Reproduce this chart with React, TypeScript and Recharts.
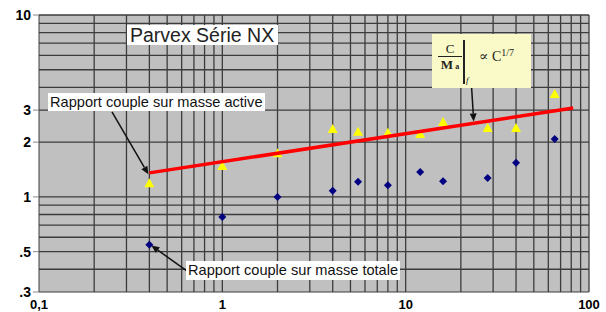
import { ScatterChart, Scatter, XAxis, YAxis, ReferenceLine, ReferenceArea } from 'recharts';

// rating (x) shared by both series
const ratings = [0.4, 1, 2, 4, 5.5, 8, 12, 16, 28, 40, 65];
const activeRatio = [1.19, 1.48, 1.74, 2.36, 2.28, 2.25, 2.22, 2.58, 2.39, 2.39, 3.68];
const totalRatio = [0.545, 0.776, 1.0, 1.08, 1.21, 1.16, 1.37, 1.22, 1.27, 1.54, 2.08];

// C^(1/7) trend line ends
const trendX = [0.4, 82];
const trendY = [1.355, 3.08];

const xTicks = [0.1, 1, 10, 100];
const xTickLabels = ['0,1', '1', '10', '100'];
const yTicks = [0.3, 0.5, 1, 2, 3, 10];
const yTickLabels = ['.3', '.5', '1', '2', '3', '10'];

const xGrid = [0.2, 0.3, 0.4, 0.5, 0.6, 0.7, 0.8, 0.9, 1, 2, 3, 4, 5, 6, 7, 8, 9, 10, 20, 30, 40, 50, 60, 70, 80, 90, 100];
const yGrid = [0.4, 0.5, 0.6, 0.7, 0.8, 0.9, 1, 2, 3, 4, 5, 6, 7, 8, 9, 10];

// annotation arrows [from, to] in data units
const arrows = [
  [{ x: 0.25, y: 2.93 }, { x: 0.395, y: 1.33 }],
  [{ x: 0.64, y: 0.392 }, { x: 0.41, y: 0.54 }],
  [{ x: 22.9, y: 3.97 }, { x: 23.5, y: 2.6 }],
];

const activeData = ratings.map((x, i) => ({ x, y: activeRatio[i] }));
const totalData = ratings.map((x, i) => ({ x, y: totalRatio[i] }));
const trendData = trendX.map((x, i) => ({ x, y: trendY[i] }));

const GRID = '#3c3c3c';
const FONT = 'Arial, "Liberation Sans", sans-serif';

const Triangle = (p: any) => (
  <polygon points={`${p.cx},${p.cy - 5} ${p.cx - 5},${p.cy + 4} ${p.cx + 5},${p.cy + 4}`} fill="#ffff00" />
);
const Diamond = (p: any) => (
  <polygon points={`${p.cx},${p.cy - 4} ${p.cx + 4},${p.cy} ${p.cx},${p.cy + 4} ${p.cx - 4},${p.cy}`} fill="#000080" />
);

const Arrow = (p: any) => {
  const { x1, y1, x2, y2 } = p;
  const a = Math.atan2(y2 - y1, x2 - x1);
  const L = 8, W = 3.5;
  const bx = x2 - L * Math.cos(a), by = y2 - L * Math.sin(a);
  const px = -Math.sin(a) * W, py = Math.cos(a) * W;
  return (
    <g>
      <line x1={x1} y1={y1} x2={bx} y2={by} stroke="#111" strokeWidth={1.5} />
      <polygon points={`${x2},${y2} ${bx + px},${by + py} ${bx - px},${by - py}`} fill="#111" />
    </g>
  );
};

const labelBox = {
  position: 'absolute' as const,
  background: '#fff',
  fontFamily: FONT,
  color: '#111',
  whiteSpace: 'nowrap' as const,
  lineHeight: 1,
  boxSizing: 'border-box' as const,
};

export default function App() {
  return (
    <div style={{ position: 'absolute', left: 0, top: 0, width: 606, height: 312, background: '#fff' }}>
      <ScatterChart width={606} height={312} margin={{ top: 15, right: 17, bottom: 0, left: 0 }}>
        <XAxis
          type="number"
          dataKey="x"
          scale="log"
          domain={[0.1, 100]}
          allowDataOverflow
          ticks={xTicks}
          tickFormatter={(v: number) => xTickLabels[xTicks.indexOf(v)] ?? ''}
          tickLine={false}
          axisLine={{ stroke: GRID }}
          height={20}
          tickMargin={2}
          tick={{ fill: '#000', fontSize: 13, fontWeight: 'bold', fontFamily: FONT }}
        />
        <YAxis
          type="number"
          dataKey="y"
          scale="log"
          domain={[0.3, 10]}
          allowDataOverflow
          ticks={yTicks}
          tickFormatter={(v: number) => yTickLabels[yTicks.indexOf(v)] ?? ''}
          tickLine={{ stroke: '#888' }}
          axisLine={{ stroke: GRID }}
          width={39}
          tick={{ fill: '#000', fontSize: 14, fontWeight: 'bold', fontFamily: FONT }}
        />
        <ReferenceArea x1={0.1} x2={100} y1={0.3} y2={10} fill="#c0c0c0" fillOpacity={1} stroke="none" />
        {xGrid.map((v) => (
          <ReferenceLine key={'x' + v} x={v} stroke={GRID} strokeWidth={1.3} />
        ))}
        {yGrid.map((v) => (
          <ReferenceLine key={'y' + v} y={v} stroke={GRID} strokeWidth={1.3} />
        ))}
        <Scatter data={activeData} shape={Triangle} isAnimationActive={false} />
        <Scatter data={totalData} shape={Diamond} isAnimationActive={false} />
        <Scatter
          data={trendData}
          line={{ stroke: '#ff0000', strokeWidth: 3.5 }}
          lineType="joint"
          shape={() => <g />}
          isAnimationActive={false}
        />
        {arrows.map((s, i) => (
          <ReferenceLine key={'a' + i} segment={s} shape={Arrow} ifOverflow="visible" />
        ))}
      </ScatterChart>

      <div style={{ ...labelBox, left: 127, top: 25, width: 151, height: 20, fontSize: 19.5, padding: '1px 0 0 3px', color: '#222' }}>
        Parvex Série NX
      </div>
      <div style={{ ...labelBox, left: 48, top: 93, height: 18, fontSize: 14.6, padding: '2px 2px 0 2px' }}>
        Rapport couple sur masse active
      </div>
      <div style={{ ...labelBox, left: 186, top: 261, height: 19, fontSize: 14.6, padding: '2px 2px 0 2px' }}>
        Rapport couple sur masse totale
      </div>

      <div
        style={{
          position: 'absolute',
          left: 432,
          top: 34,
          width: 99,
          height: 54,
          background: '#fafac8',
          fontFamily: '"Liberation Serif", "DejaVu Serif", serif',
          color: '#222',
        }}
      >
        <div style={{ position: 'absolute', left: 6, top: 8, width: 24, textAlign: 'center', fontSize: 13 }}>
          <div style={{ lineHeight: '14px' }}>C</div>
          <div style={{ borderTop: '1px solid #222', lineHeight: '16px', fontWeight: 'bold' }}>
            M<span style={{ fontSize: 8 }}> a</span>
          </div>
        </div>
        <div style={{ position: 'absolute', left: 31, top: 6, width: 1.5, height: 44, background: '#222' }} />
        <div style={{ position: 'absolute', left: 34, top: 41, fontSize: 9, fontStyle: 'italic' }}>f</div>
        <div style={{ position: 'absolute', left: 47, top: 14, fontSize: 14, whiteSpace: 'nowrap' }}>
          ∝ C<span style={{ fontSize: 10, position: 'relative', top: -5 }}>1/7</span>
        </div>
      </div>
    </div>
  );
}
